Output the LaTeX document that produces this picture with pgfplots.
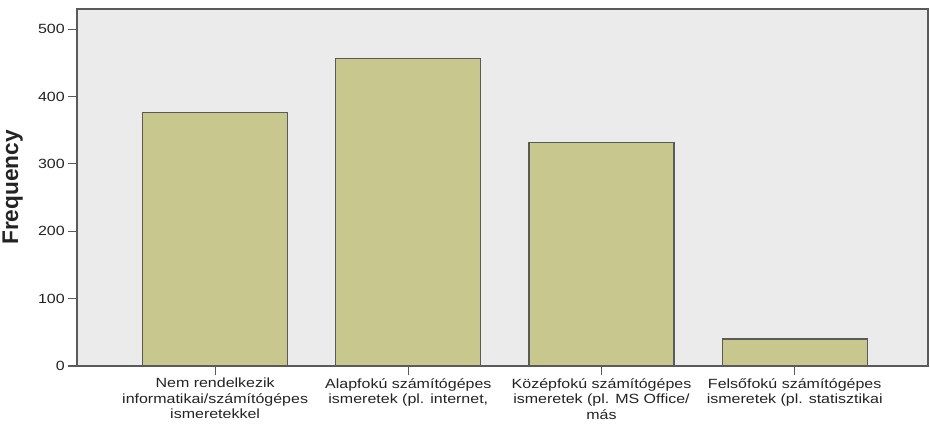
\documentclass[border=0pt]{standalone}
\usepackage{pgfplots}
\pgfplotsset{compat=1.18}
\usepackage{fontspec}
\setmainfont{Liberation Sans}
% the reference is stretched sideways, so its texts are wider than normal
\newfontfamily\widesans[FakeStretch=1.2]{Liberation Sans}

\definecolor{barfill}{RGB}{200,200,142}
\definecolor{plotbg}{RGB}{235,235,235}
\definecolor{edgegray}{RGB}{90,90,90}
\definecolor{labelgray}{RGB}{35,35,35}

\begin{document}
\begin{tikzpicture}[x=1pt,y=1pt]
% frame of the whole picture (930x429 px at 0.75pt per px)
\useasboundingbox (-57.75,-47.25) rectangle (639.75,274.5);
\begin{axis}[
  at={(0,0)}, anchor=south west,
  scale only axis,
  width=638.25pt, height=267.75pt,
  xmin=-0.715, xmax=3.69,
  ymin=0, ymax=530,
  axis background/.style={fill=plotbg},
  axis line style={edgegray, line width=1pt},
  ybar, bar width=108.75pt,
  xtick={0,1,2,3},
  xticklabels={
    {Nem rendelkezik\\informatikai/számítógépes\\ismeretekkel},
    {Alapfokú számítógépes\\ismeretek (pl. internet,},
    {Középfokú számítógépes\\ismeretek (pl. MS Office/\\más},
    {Felsőfokú számítógépes\\ismeretek (pl. statisztikai}},
  xticklabel style={align=center, font=\widesans\fontsize{10}{11.6}\selectfont,
    text=labelgray, inner sep=2pt},
  ytick={0,100,200,300,400,500},
  yticklabel style={font=\widesans\fontsize{10}{11}\selectfont,
    text=labelgray, inner sep=2pt},
  /pgf/number format/assume math mode=true,
  tick align=outside,
  major tick length=7pt,
  tick style={edgegray, line width=0.8pt},
  xtick pos=bottom, ytick pos=left,
  ylabel={\bfseries Frequency},
  ylabel style={at={(axis description cs:-0.0693,0.5)},
    anchor=base, font=\fontsize{17}{18}\selectfont, text=labelgray},
]
\addplot[fill=barfill, draw=edgegray, line width=0.9pt]
coordinates {(0,376) (1,456) (2,332) (3,40)};
\end{axis}
\end{tikzpicture}
\end{document}
